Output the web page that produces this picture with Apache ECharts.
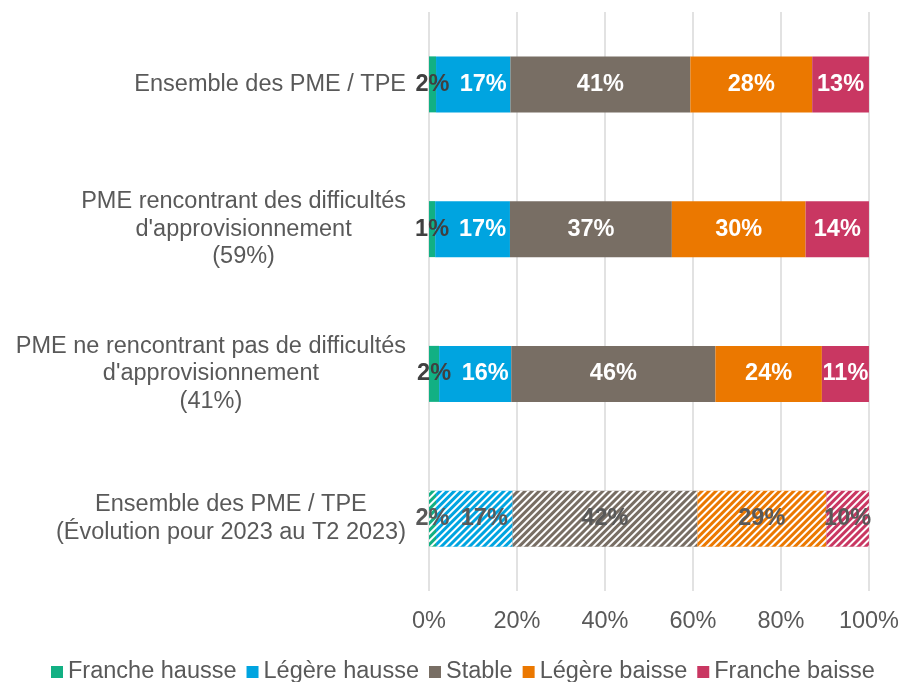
<!DOCTYPE html>
<html>
<head>
<meta charset="utf-8">
<script src="https://cdn.jsdelivr.net/npm/echarts@6/dist/echarts.min.js"></script>
<style>
html,body{margin:0;padding:0;background:#fff;}
#chart{width:902px;height:682px;}
</style>
</head>
<body>
<div id="chart"></div>
<script>
const categories = [
  "Ensemble des PME / TPE",
  "PME rencontrant des difficultés\nd'approvisionnement\n(59%)",
  "PME ne rencontrant pas de difficultés\nd'approvisionnement\n(41%)",
  "Ensemble des PME / TPE\n(Évolution pour 2023 au T2 2023)"
];
const seriesNames = ["Franche hausse", "Légère hausse", "Stable", "Légère baisse", "Franche baisse"];
const francheHausse = [1.6, 1.4, 2.3, 1.6];
const legereHausse = [16.9, 17.0, 16.4, 17.4];
const stable = [40.9, 36.8, 46.4, 42.0];
const legereBaisse = [27.7, 30.4, 24.2, 29.3];
const francheBaisse = [12.9, 14.4, 10.7, 9.7];
const xTicks = [0, 20, 40, 60, 80, 100];

const FONT = 'Liberation Sans, Arial, sans-serif';
const FS = 23.5;
const colors = ['#12B083', '#00A4E0', '#786E64', '#EB7800', '#C93762'];
const values = [francheHausse, legereHausse, stable, legereBaisse, francheBaisse];
const hatchedIndex = 3;

const chart = echarts.init(document.getElementById('chart'));
const series = seriesNames.map((name, si) => ({
  name: name,
  type: 'bar',
  stack: 'total',
  barWidth: 56,
  itemStyle: { color: colors[si] },
  label: {
    show: true,
    position: 'inside',
    offset: si === 1 ? [10, 0] : [0, 0],
    formatter: p => Math.round(p.value) + '%',
    fontFamily: FONT,
    fontSize: FS,
    fontWeight: 'bold',
    color: si === 0 ? '#404040' : '#ffffff'
  },
  data: values[si].map((v, i) => i === hatchedIndex ? {
    value: v,
    itemStyle: {
      decal: {
        symbol: 'rect',
        color: '#ffffff',
        dashArrayX: [1, 0],
        dashArrayY: [2, 3],
        rotation: -Math.PI / 4,
        symbolSize: 1
      }
    },
    label: { color: '#595959' }
  } : v)
}));

chart.setOption({
  animation: false,
  grid: { left: 429, right: 33, top: 12, bottom: 91 },
  legend: {
    data: seriesNames,
    left: 46,
    top: 655,
    icon: 'rect',
    itemWidth: 12,
    itemHeight: 12,
    itemGap: 10,
    textStyle: { fontFamily: FONT, fontSize: FS, color: '#595959' }
  },
  xAxis: {
    type: 'value',
    min: xTicks[0],
    max: xTicks[xTicks.length - 1],
    interval: 20,
    axisLine: { show: false },
    axisTick: { show: false },
    splitLine: { lineStyle: { color: '#D9D9D9', width: 1.5 } },
    axisLabel: {
      margin: 19,
      formatter: '{value}%',
      fontFamily: FONT,
      fontSize: FS,
      color: '#595959'
    }
  },
  yAxis: {
    type: 'category',
    inverse: true,
    data: categories,
    axisLine: { show: false },
    axisTick: { show: false },
    axisLabel: {
      margin: 23,
      align: 'right',
      formatter: v => v.split('\n').map(l => '{c|' + l + '}').join('\n'),
      rich: {
        c: {
          align: 'center',
          fontFamily: FONT,
          fontSize: FS,
          lineHeight: 27.5,
          color: '#595959'
        }
      }
    }
  },
  series: series
});
</script>
</body>
</html>
